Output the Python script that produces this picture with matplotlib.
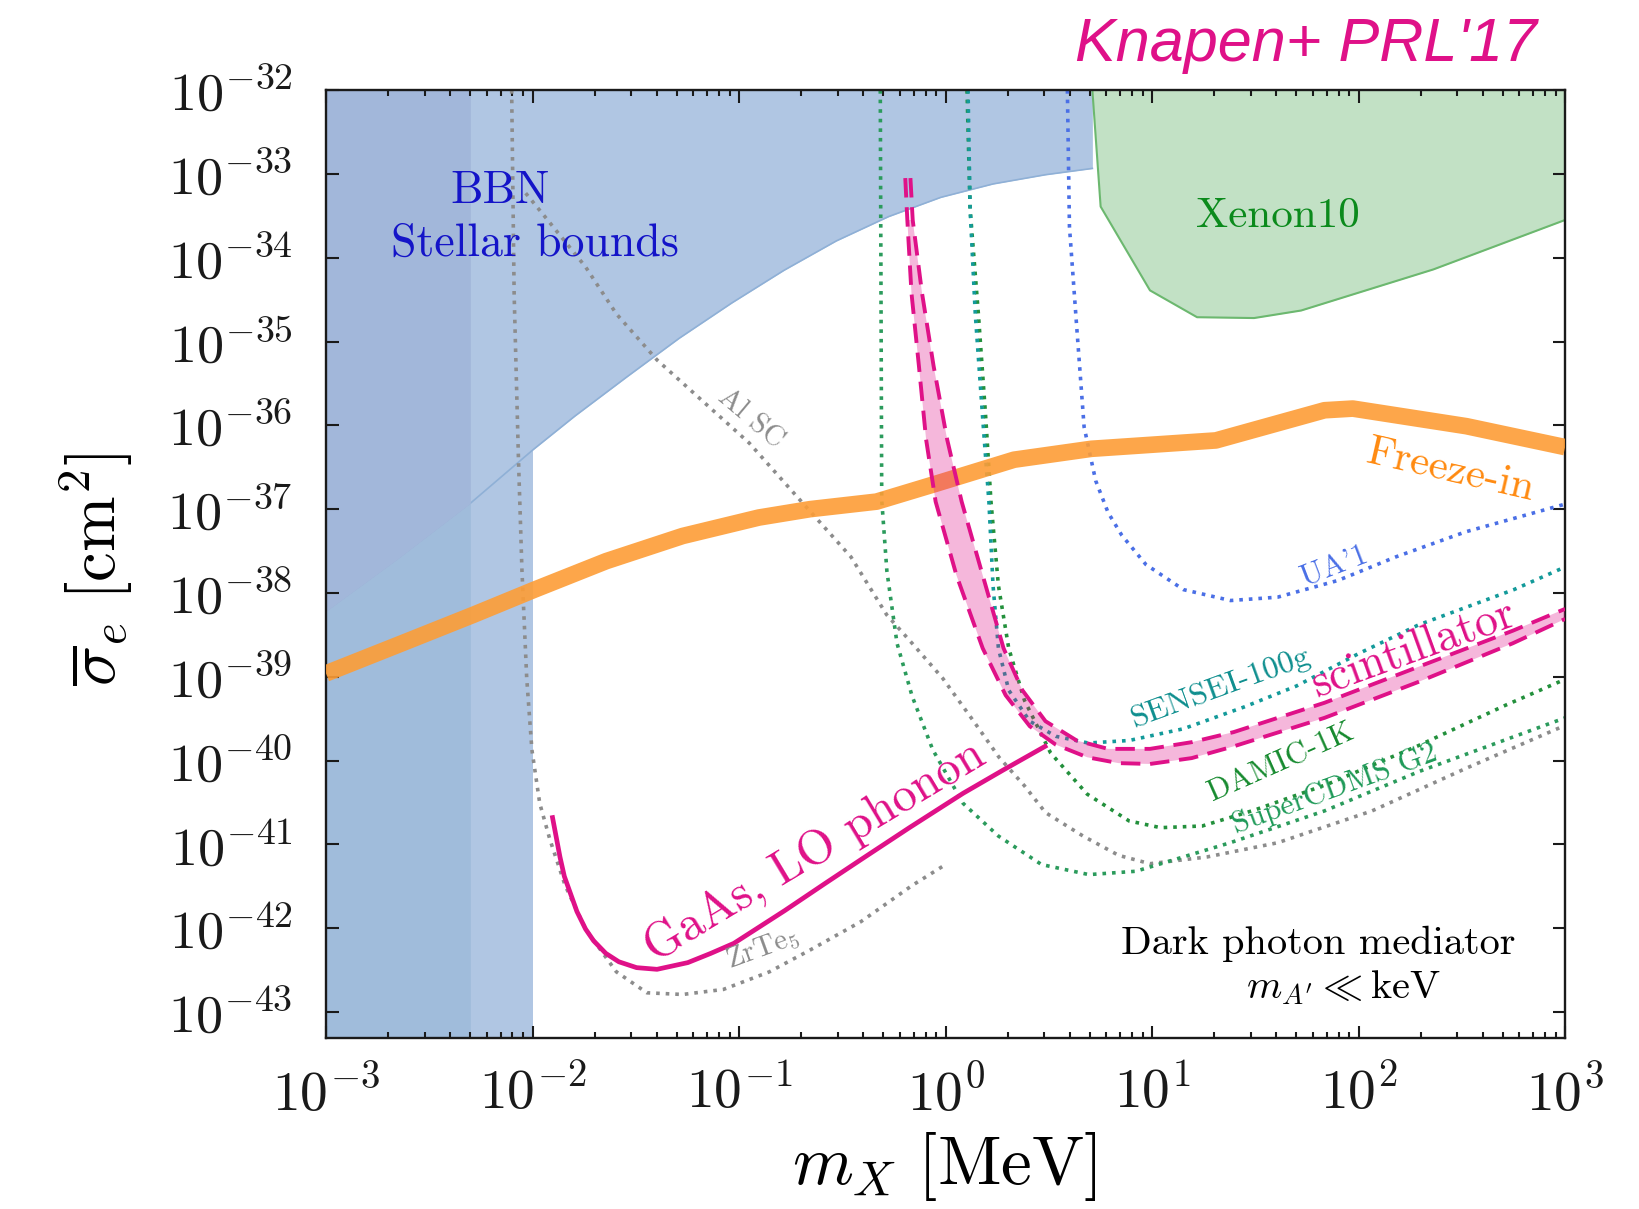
import numpy as np
import matplotlib
matplotlib.use("Agg")
import matplotlib.pyplot as plt
from matplotlib.ticker import FixedLocator, NullLocator, LogLocator, NullFormatter

plt.rcParams['mathtext.fontset'] = 'cm'
plt.rcParams['font.family'] = 'cmr10'
plt.rcParams['axes.formatter.use_mathtext'] = True

# all values are log10(m_X / MeV) and log10(sigma_e / cm^2)
stellar_lm = [-3.0, -2.656, -2.301, -1.997, -1.795, -1.542, -1.289, -1.035, -0.782, -0.529,
              -0.276, -0.023, 0.230, 0.484, 0.711]
stellar_ls = [-38.22, -37.60, -36.93, -36.29, -35.89, -35.42, -34.96, -34.54, -34.15, -33.80,
              -33.51, -33.28, -33.12, -33.01, -32.935]

bbn_edge_lm = -2.301   # darker band up to 5 keV
band_edge_lm = -2.0    # light band up to 10 keV

xenon_lm = [0.711, 0.751, 0.99, 1.218, 1.494, 1.722, 2.362, 3.0]
xenon_ls = [-32.0, -33.39, -34.39, -34.71, -34.72, -34.63, -34.14, -33.55]

freeze_lm = [-3.0, -2.632, -2.286, -1.99, -1.643, -1.273, -0.904, -0.656, -0.334, -0.038,
             0.332, 0.706, 1.309, 1.835, 1.972, 2.522, 3.0]
freeze_ls = [-38.96, -38.60, -38.26, -37.96, -37.62, -37.32, -37.10, -37.00, -36.91, -36.69,
             -36.41, -36.28, -36.18, -35.82, -35.80, -36.01, -36.26]

scint_lo_lm = [-0.195, -0.185, -0.165, -0.129, -0.094, -0.048, 0.053, 0.180, 0.291, 0.408,
               0.534, 0.686, 0.838, 0.990, 1.192, 1.395, 1.835, 2.291, 2.747, 3.0]
scint_lo_ls = [-33.05, -33.55, -34.42, -35.29, -36.17, -36.91, -37.79, -38.66, -39.22, -39.59,
               -39.81, -39.96, -40.03, -40.04, -39.97, -39.83, -39.49, -39.06, -38.60, -38.31]
scint_hi_lm = [-0.170, -0.159, -0.114, -0.058, 0.008, 0.078, 0.180, 0.281, 0.372, 0.484,
               0.635, 0.787, 0.990, 1.192, 1.395, 1.835, 2.291, 2.747, 3.0]
scint_hi_ls = [-33.05, -33.55, -34.42, -35.29, -36.17, -36.91, -37.79, -38.66, -39.16, -39.53,
               -39.76, -39.86, -39.86, -39.78, -39.66, -39.31, -38.88, -38.45, -38.19]

gaas_lm = [-1.903, -1.867, -1.846, -1.817, -1.785, -1.743, -1.704, -1.645, -1.582, -1.496,
           -1.397, -1.248, -1.137, -1.025, -0.779, -0.580, -0.409, -0.175, 0.085, 0.281, 0.482]
gaas_ls = [-40.68, -41.15, -41.38, -41.58, -41.80, -42.01, -42.15, -42.30, -42.40, -42.47,
           -42.49, -42.41, -42.30, -42.18, -41.79, -41.46, -41.18, -40.80, -40.39, -40.11, -39.83]

zrte5_lm = [-2.101, -2.089, -2.068, -2.051, -2.028, -2.003, -1.965, -1.916, -1.842, -1.743,
            -1.594, -1.446, -1.273, -1.076, -0.853, -0.656, -0.409, -0.162, 0.0]
zrte5_ls = [-32.0, -34.43, -36.41, -37.74, -39.02, -39.87, -40.51, -40.94, -41.49, -42.01,
            -42.52, -42.77, -42.79, -42.73, -42.52, -42.26, -41.92, -41.49, -41.24]

alsc_lm = [-2.033, -1.940, -1.743, -1.594, -1.397, -1.199, -0.951, -0.705, -0.458, -0.285,
           -0.162, -0.013, 0.136, 0.259, 0.382, 0.484, 0.666, 0.838, 0.990, 1.265, 1.608,
           2.065, 2.522, 3.0]
alsc_ls = [-33.23, -33.51, -34.11, -34.67, -35.22, -35.66, -36.21, -36.89, -37.57, -38.26,
           -38.60, -39.02, -39.53, -39.96, -40.30, -40.62, -40.90, -41.13, -41.23, -41.15,
           -40.98, -40.60, -40.09, -39.58]

cdms_lm = [-0.316, -0.309, -0.284, -0.235, -0.162, -0.062, 0.085, 0.256, 0.465, 0.694, 0.922,
           1.378, 1.835, 2.293, 3.0]
cdms_ls = [-32.0, -36.89, -37.74, -38.60, -39.23, -39.87, -40.51, -40.90, -41.24, -41.36,
           -41.32, -40.98, -40.60, -40.13, -39.49]

damic_lm = [0.104, 0.119, 0.159, 0.195, 0.220, 0.256, 0.306, 0.382, 0.509, 0.686, 0.889, 1.041,
            1.243, 1.496, 1.851, 2.291, 2.711, 3.0]
damic_ls = [-32.0, -33.42, -34.67, -35.92, -36.91, -37.91, -38.66, -39.28, -39.91, -40.40,
            -40.72, -40.80, -40.78, -40.59, -40.28, -39.82, -39.34, -39.03]

sensei_lm = [0.109, 0.119, 0.144, 0.180, 0.210, 0.230, 0.256, 0.306, 0.408, 0.534, 0.691, 0.889,
             1.152, 1.446, 1.699, 2.003, 2.291, 2.752, 3.0]
sensei_ls = [-32.0, -33.42, -34.67, -35.92, -36.91, -37.91, -38.66, -39.16, -39.53, -39.71,
             -39.79, -39.76, -39.62, -39.36, -39.11, -38.72, -38.38, -37.96, -37.69]

ua1_lm = [0.590, 0.600, 0.635, 0.671, 0.727, 0.787, 0.853, 0.970, 1.152, 1.380, 1.608, 1.901,
          2.180, 2.519, 3.0]
ua1_ls = [-32.0, -33.63, -34.82, -36.02, -36.66, -37.04, -37.31, -37.66, -37.96, -38.09, -38.05,
          -37.85, -37.57, -37.27, -36.94]

x_ticks = [-3, -2, -1, 0, 1, 2, 3]
y_ticks = list(range(-43, -31))


def p(a):
    return 10.0 ** np.asarray(a)


MAGENTA = '#df1188'
LIGHT_BLUE = '#b0c6e3'

fig = plt.figure(figsize=(16.39, 12.09), dpi=100)
ax = fig.add_axes([0.1989, 0.1414, 0.756, 0.7841])
ax.set_xscale('log')
ax.set_yscale('log')
xlo, xhi = 1e-3, 1e3
ylo, yhi = 10 ** -43.31, 1e-32
ax.set_xlim(xlo, xhi)
ax.set_ylim(ylo, yhi)

# BBN / stellar bounds
ax.axvspan(xlo, p(band_edge_lm), color=LIGHT_BLUE, lw=0, zorder=1)
ax.fill_between(p(stellar_lm), p(stellar_ls), yhi, color=LIGHT_BLUE, lw=0, zorder=1)
ax.plot(p(stellar_lm), p(stellar_ls), color='#8fb0d6', lw=1.2, zorder=1.2)
n_bbn = sum(1 for v in stellar_lm if v <= bbn_edge_lm + 1e-9)
ax.fill_between(p(stellar_lm[:n_bbn]), ylo, p(stellar_ls[:n_bbn]), color='#a0bcdb', lw=0, zorder=1.3)
ax.fill_between(p(stellar_lm[:n_bbn]), p(stellar_ls[:n_bbn]), yhi, color='#a2b7da', lw=0, zorder=1.3)

# Xenon10
ax.fill_between(p(xenon_lm), p(xenon_ls), yhi, color='#c2e1c5', lw=0, zorder=1)
ax.plot(p(xenon_lm), p(xenon_ls), color='#6cb86f', lw=1.5, zorder=1.2)

# projected reaches (dotted)
dot = dict(ls=':', lw=2.6, zorder=2)
ax.plot(p(zrte5_lm), p(zrte5_ls), color='#8c8c8c', **dot)
ax.plot(p(alsc_lm), p(alsc_ls), color='#8c8c8c', **dot)
ax.plot(p(cdms_lm), p(cdms_ls), color='#2b9b5c', **dot)
ax.plot(p(damic_lm), p(damic_ls), color='#23903c', **dot)
ax.plot(p(sensei_lm), p(sensei_ls), color='#139a9a', **dot)
ax.plot(p(ua1_lm), p(ua1_ls), color='#4a6fe6', **dot)

# freeze-in band
ax.plot(p(freeze_lm), p(freeze_ls), color='#fd9d36', lw=12, alpha=0.9,
        solid_capstyle='butt', solid_joinstyle='round', zorder=3)

# scintillator band
band_x = np.concatenate([p(scint_lo_lm[1:]), p(scint_hi_lm[1:])[::-1]])
band_y = np.concatenate([p(scint_lo_ls[1:]), p(scint_hi_ls[1:])[::-1]])
ax.fill(band_x, band_y, color=MAGENTA, alpha=0.3, lw=0, zorder=4)
ax.plot(p(scint_lo_lm), p(scint_lo_ls), color=MAGENTA, lw=2.8, dashes=(5, 2.5), zorder=5)
ax.plot(p(scint_hi_lm), p(scint_hi_ls), color=MAGENTA, lw=2.8, dashes=(5, 2.5), zorder=5)

# GaAs LO phonon
ax.plot(p(gaas_lm), p(gaas_ls), color=MAGENTA, lw=3.4, zorder=5)

# labels
def lab(lm, ls, s, color, size, rot=0, **kw):
    ax.text(10 ** lm, 10 ** ls, s, color=color, fontsize=size, rotation=rot,
            ha='center', va='center', rotation_mode='anchor', zorder=6, **kw)

lab(-2.159, -33.21, 'BBN', '#1414c8', 33)
lab(-1.987, -33.83, 'Stellar bounds', '#1414c8', 33)
lab(1.608, -33.51, 'Xenon10', '#0b8a1c', 31)
lab(-0.944, -35.92, 'Al SC', '#8c8c8c', 21, rot=-40)
lab(-0.883, -42.24, r'ZrTe$_5$', '#8c8c8c', 21, rot=20)
lab(-0.630, -41.09, 'GaAs, LO phonon', MAGENTA, 35, rot=31)
lab(2.266, -38.68, 'scintillator', MAGENTA, 33, rot=20)
lab(2.448, -36.54, 'Freeze-in', '#ff8a10', 31, rot=-13)
lab(1.886, -37.69, "UA'1", '#4a6fe6', 22, rot=21)
lab(1.329, -39.13, 'SENSEI-100g', '#0f8f8f', 23, rot=20)
lab(1.623, -40.03, 'DAMIC-1K', '#168a2e', 22, rot=24)
lab(1.886, -40.34, 'SuperCDMS G2', '#1e9a58', 22, rot=20)
lab(1.805, -42.19, 'Dark photon mediator', 'black', 29)
lab(1.927, -42.71, r"$m_{A'} \ll \mathrm{keV}$", 'black', 29)

# axes, ticks
ax.xaxis.set_major_locator(FixedLocator(p(x_ticks)))
ax.set_xticklabels([r'$10^{%d}$' % v for v in x_ticks])
ax.xaxis.set_minor_locator(LogLocator(base=10, subs=np.arange(2, 10), numticks=20))
ax.xaxis.set_minor_formatter(NullFormatter())
ax.yaxis.set_major_locator(FixedLocator(p(y_ticks)))
ax.set_yticklabels([r'$10^{%d}$' % v for v in y_ticks])
ax.yaxis.set_minor_locator(NullLocator())
ax.tick_params(which='both', direction='in', top=True, right=True, width=1.5, colors='#1a1a1a')
ax.tick_params(which='major', length=9)
ax.tick_params(which='minor', length=4.5)
ax.tick_params(axis='y', labelsize=39, pad=24)
ax.tick_params(axis='x', labelsize=40, pad=20)
for s in ax.spines.values():
    s.set_linewidth(1.7)
    s.set_color('#1a1a1a')

fig.text(0.0587, 0.529, r'$\overline{\sigma}_e\ [\mathrm{cm}^2]$', rotation=90,
         fontsize=48, ha='center', va='center')
fig.text(0.576, 0.035, r'$m_X\ [\mathrm{MeV}]$', fontsize=50, ha='center', va='center')
fig.text(0.797, 0.962, "Knapen+ PRL'17", color=MAGENTA, fontsize=44, style='italic',
         family='Liberation Sans', ha='center', va='center')

fig.savefig('out.png', dpi=100)
